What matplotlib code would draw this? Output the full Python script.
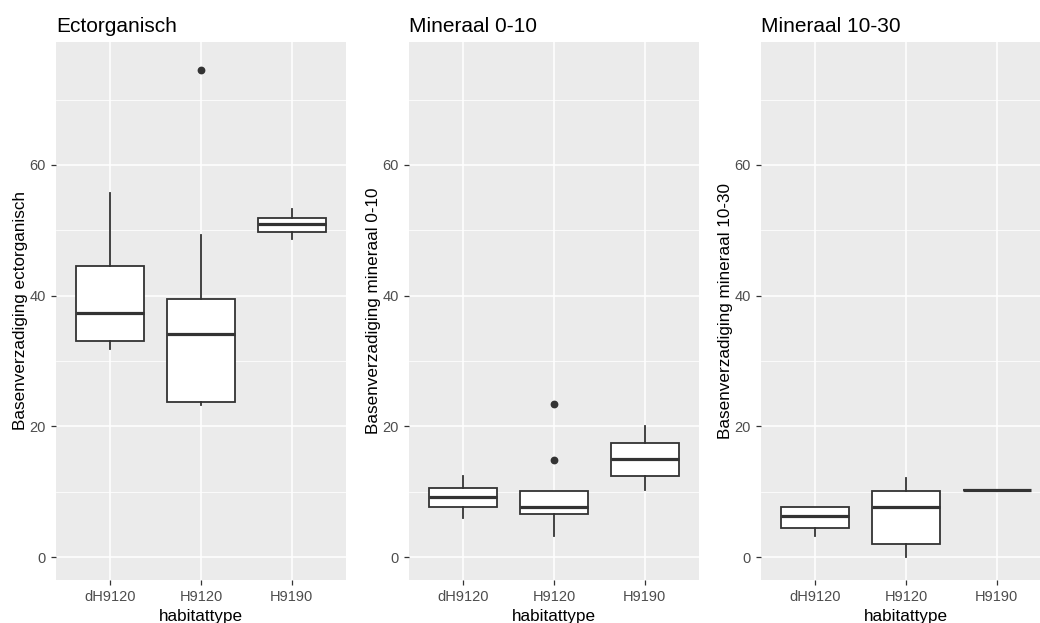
import matplotlib.pyplot as plt
import numpy as np

plt.rcParams['font.family'] = ['Liberation Sans', 'DejaVu Sans']

categories = ["dH9120", "H9120", "H9190"]
titles = ["Ectorganisch", "Mineraal 0-10", "Mineraal 10-30"]
ylabels = ["Basenverzadiging ectorganisch",
           "Basenverzadiging mineraal 0-10",
           "Basenverzadiging mineraal 10-30"]

# box stats: whislo, q1, med, q3, whishi
ecto_stats = [[31.8, 33.1, 37.3, 44.6, 55.7],
              [23.3, 23.75, 34.1, 39.5, 49.3],
              [48.7, 49.8, 50.9, 51.9, 53.2]]
ecto_fliers = [[], [74.5], []]

min010_stats = [[6.0, 7.7, 9.25, 10.6, 12.4],
                [3.3, 6.6, 7.6, 10.1, 10.1],
                [10.2, 12.4, 15.0, 17.5, 20.0]]
min010_fliers = [[], [23.4, 14.9], []]

min1030_stats = [[3.3, 4.5, 6.3, 7.6, 7.6],
                 [0.0, 1.95, 7.7, 10.1, 12.1],
                 [10.2, 10.2, 10.2, 10.2, 10.2]]
min1030_fliers = [[], [], []]

all_stats = [ecto_stats, min010_stats, min1030_stats]
all_fliers = [ecto_fliers, min010_fliers, min1030_fliers]

W, H = 1040, 623
fig = plt.figure(figsize=(W / 100, H / 100), dpi=100)
lefts = [56, 409, 761]
top, bottom, pw = 42, 580, 290

ymin, ymax = -3.5, 78.8
line_col = "#333333"

for i in range(3):
    ax = fig.add_axes([lefts[i] / W, (H - bottom) / H, pw / W, (bottom - top) / H])
    ax.set_facecolor("#EBEBEB")
    for s in ax.spines.values():
        s.set_visible(False)

    stats = []
    for j, cat in enumerate(categories):
        lo, q1, med, q3, hi = all_stats[i][j]
        stats.append(dict(label=cat, whislo=lo, q1=q1, med=med, q3=q3,
                          whishi=hi, fliers=all_fliers[i][j]))
    ax.bxp(stats, positions=[1, 2, 3], widths=0.75, patch_artist=True,
           showcaps=False,
           boxprops=dict(facecolor="white", edgecolor=line_col, linewidth=1.3),
           whiskerprops=dict(color=line_col, linewidth=1.3),
           medianprops=dict(color=line_col, linewidth=2.3),
           flierprops=dict(marker="o", markerfacecolor=line_col,
                           markeredgecolor=line_col, markersize=4.6))

    ax.set_xlim(0.4, 3.6)
    ax.set_ylim(ymin, ymax)
    ax.set_yticks([0, 20, 40, 60])
    ax.set_yticks([10, 30, 50, 70], minor=True)
    ax.set_xticks([1, 2, 3])
    ax.set_xticklabels(categories)
    ax.grid(True, which="major", color="white", linewidth=1.1)
    ax.grid(True, which="minor", axis="y", color="white", linewidth=0.55)
    ax.set_axisbelow(True)
    ax.tick_params(which="major", length=3.5, width=0.9, color=line_col,
                   labelcolor="#4D4D4D", labelsize=10.5, pad=4)
    ax.tick_params(which="minor", length=0)

    ax.set_title(titles[i], loc="left", fontsize=15, color="black", pad=7)
    ax.set_ylabel(ylabels[i], fontsize=12.3, labelpad=1)
    ax.set_xlabel("habitattype", fontsize=12.3, labelpad=3)

fig.savefig("out.png", dpi=100)
